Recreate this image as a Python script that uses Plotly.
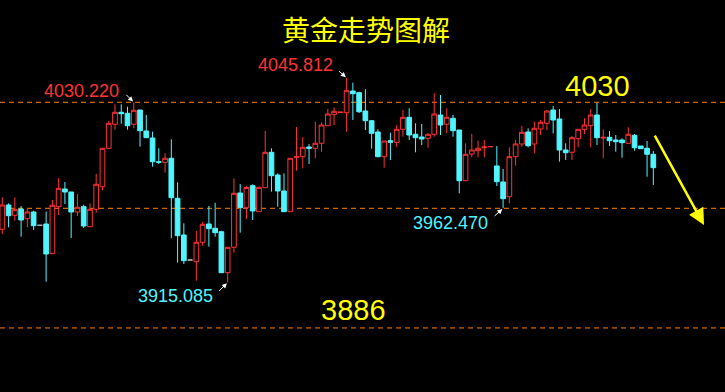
import plotly.graph_objects as go

# ---- data ----
idx = list(range(105))
opens = [3949.05, 3964.58, 3958.00, 3962.02, 3955.82, 3960.11, 3951.61, 3952.44, 3933.45, 3963.49,
         3974.81, 3972.89, 3960.11, 3963.49, 3950.71, 3961.83, 3976.28, 4000.82, 4016.16, 4023.83,
         4023.19, 4016.16, 4025.30, 4011.88, 4007.40, 3992.26, 3991.87, 3994.43, 3968.86, 3945.41,
         3929.43, 3928.34, 3940.74, 3952.44, 3949.69, 3947.52, 3921.31, 3937.55, 3972.25, 3962.86,
         3976.92, 3960.30, 3975.64, 3998.26, 3983.75, 3973.53, 3960.30, 3995.07, 3995.45, 4001.65,
         4000.82, 4004.02, 4015.26, 4022.55, 4023.80, 4023.57, 4037.44, 4036.36, 4024.66, 4018.46,
         4011.24, 3995.45, 4005.68, 4004.65, 4012.96, 4020.63, 4009.77, 4008.04, 4007.21, 4009.77,
         4022.10, 4016.16, 4019.99, 4012.52, 3980.11, 3997.18, 3999.29, 4001.20, 4001.80, 3989.51,
         3979.28, 3969.89, 3995.45, 4003.57, 4011.24, 4003.57, 4013.16, 4016.80, 4025.30, 4019.55,
         3999.73, 3998.26, 4006.96, 4012.96, 4015.26, 4022.10, 4007.40, 4007.85, 4006.12, 4006.12,
         4004.02, 4009.13, 4002.29, 4000.82, 3996.99]
highs = [3969.50, 3965.67, 3969.50, 3963.94, 3962.22, 3960.94, 3951.61, 3960.30, 3967.78, 3981.84,
         3979.28, 3972.89, 3971.61, 3964.77, 3965.67, 3984.39, 4000.82, 4018.27, 4028.94, 4028.94,
         4027.41, 4030.22, 4025.30, 4022.10, 4011.43, 4000.82, 3997.62, 4006.57, 3979.09, 3952.88,
         3929.43, 3947.96, 3953.91, 3963.94, 3966.05, 3948.15, 3937.55, 3981.65, 3978.00, 3976.72,
         3977.81, 3975.89, 4011.88, 4000.82, 3984.84, 3984.84, 3994.43, 4014.43, 4008.04, 4003.57,
         4017.82, 4017.44, 4025.94, 4027.02, 4024.00, 4045.812, 4042.75, 4037.00, 4038.72, 4018.91,
         4012.96, 4005.49, 4010.79, 4015.71, 4025.30, 4026.39, 4016.80, 4016.35, 4010.41, 4035.97,
         4034.89, 4026.39, 4022.10, 4012.52, 4004.02, 4009.96, 4005.68, 4006.12, 4002.00, 4002.29,
         3987.59, 4001.46, 4006.12, 4015.07, 4013.60, 4017.82, 4018.91, 4025.30, 4027.86, 4025.94,
         4004.02, 4008.68, 4012.96, 4019.99, 4025.94, 4029.96, 4012.96, 4011.88, 4009.32, 4007.21,
         4014.24, 4009.96, 4002.29, 4005.49, 3999.09]
lows = [3946.05, 3950.33, 3954.55, 3944.32, 3950.33, 3948.60, 3951.61, 3915.56, 3933.45, 3958.19,
        3965.22, 3943.49, 3957.55, 3949.88, 3950.71, 3959.66, 3974.17, 4000.82, 4012.71, 4016.54,
        4012.71, 4013.60, 4001.84, 4007.59, 3989.06, 3990.79, 3985.22, 3943.30, 3927.70, 3926.87,
        3929.43, 3916.20, 3938.57, 3937.93, 3944.32, 3921.31, 3915.085, 3934.09, 3946.88, 3955.63,
        3954.99, 3960.30, 3975.64, 3973.08, 3963.49, 3960.30, 3960.30, 3986.50, 3988.04, 3990.79,
        3994.43, 3998.65, 4015.26, 4015.71, 4023.70, 4011.43, 4018.91, 4023.38, 4012.52, 4000.56,
        3995.07, 3988.42, 3993.34, 4001.46, 4008.23, 4006.12, 3998.26, 4002.93, 4001.20, 4008.23,
        4009.32, 4010.41, 4008.23, 3972.06, 3980.11, 3995.07, 3995.07, 3995.07, 4001.70, 3976.72,
        3962.47, 3965.67, 3989.70, 4001.84, 4001.46, 3997.62, 4009.32, 4012.52, 4010.41, 3992.26,
        3993.34, 3993.34, 4001.46, 4009.96, 4001.46, 4002.93, 3994.43, 4002.29, 3998.65, 3994.81,
        4004.02, 3999.29, 4000.56, 3982.67, 3977.36]
closes = [3964.58, 3957.74, 3961.83, 3954.99, 3960.11, 3951.35, 3951.61, 3933.26, 3964.39, 3975.25,
          3972.89, 3960.11, 3963.11, 3951.16, 3961.83, 3977.81, 4000.82, 4016.80, 4023.83, 4022.93,
          4015.26, 4025.11, 4012.07, 4007.59, 3992.26, 3991.87, 3994.43, 3969.25, 3944.96, 3928.98,
          3929.43, 3940.74, 3952.25, 3949.43, 3946.88, 3921.31, 3937.55, 3972.06, 3962.86, 3975.77,
          3960.75, 3975.89, 3998.26, 3983.31, 3973.53, 3960.30, 3994.43, 3995.45, 4001.46, 4000.82,
          4004.02, 4015.71, 4022.74, 4024.47, 4023.90, 4037.63, 4035.72, 4024.21, 4018.46, 4010.41,
          3995.45, 4005.49, 4004.65, 4012.96, 4020.63, 4009.32, 4007.59, 4006.76, 4009.77, 4022.74,
          4015.71, 4020.63, 4012.07, 3980.11, 3996.99, 3999.73, 4000.82, 4001.65, 4001.90, 3979.47,
          3968.61, 3995.45, 4003.57, 4011.05, 4002.48, 4013.60, 4017.44, 4024.66, 4018.91, 3999.73,
          3998.01, 4007.59, 4012.96, 4015.71, 4022.10, 4007.59, 4007.85, 4005.68, 4005.04, 4004.40,
          4009.77, 4001.20, 4000.56, 3996.99, 3988.42]
gray_doji = [6, 30]

levels = [4030.22, 3962.47, 3886]
title_text = "黄金走势图解"

# ---- styling ----
W, H = 725, 392
RED = "#FF3333"
CYAN = "#50F5FF"
YELLOW = "#FFFF00"
ORANGE = "#FF8000"
X_RANGE = [-0.37, 115.45]
Y_RANGE = [3845.06, 4095.60]

def mask(arr, keep):
    return [v if (i in gray_doji) == keep else None for i, v in enumerate(arr)]

fig = go.Figure()
fig.add_trace(go.Candlestick(
    x=idx, open=mask(opens, False), high=mask(highs, False),
    low=mask(lows, False), close=mask(closes, False),
    increasing=dict(line=dict(color=RED, width=1), fillcolor="#000000"),
    decreasing=dict(line=dict(color=CYAN, width=1), fillcolor=CYAN),
    whiskerwidth=0, hoverinfo="skip", showlegend=False))
fig.add_trace(go.Candlestick(
    x=idx, open=mask(opens, True), high=mask(highs, True),
    low=mask(lows, True), close=mask(closes, True),
    increasing=dict(line=dict(color="#B0B0B0", width=1), fillcolor="#B0B0B0"),
    decreasing=dict(line=dict(color="#B0B0B0", width=1), fillcolor="#B0B0B0"),
    whiskerwidth=0, hoverinfo="skip", showlegend=False))

for lv in levels:
    fig.add_shape(type="line", xref="paper", x0=0, x1=1, yref="y", y0=lv, y1=lv,
                  line=dict(color=ORANGE, width=1, dash="5px,4px"), layer="below")

def px(x, y):
    return x / W, 1 - y / H

annos = []
def text(s, x, y, size, color, family="Liberation Sans, Arial, sans-serif"):
    ax_, ay_ = px(x, y)
    annos.append(dict(text=s, x=ax_, y=ay_, xref="paper", yref="paper",
                      xanchor="center", yanchor="middle", showarrow=False,
                      font=dict(size=size, color=color, family=family)))

text(title_text, 366, 29, 28, YELLOW, "Noto Sans CJK SC, sans-serif")
text("4030.220", 81.7, 90.7, 18, RED)
text("4045.812", 295, 65, 18, RED)
text("3962.470", 450, 223.3, 18, CYAN)
text("3915.085", 175, 296.3, 18, CYAN)
text("4030", 597, 86, 29, YELLOW)
text("3886", 353.3, 310, 29, YELLOW)

# small white pointer arrows (tip at candle extreme)
def pointer(i, price, dx, dy):
    annos.append(dict(x=i, y=price, xref="x", yref="y", ax=dx, ay=dy, axref="pixel", ayref="pixel",
                      text="", showarrow=True, arrowcolor="#FFFFFF", arrowwidth=1,
                      arrowhead=2, arrowsize=1, standoff=1))

pointer(21, highs[21], -9, -9)
pointer(55, highs[55], -9, -8)
pointer(36, lows[36], -10, 10)
pointer(80, lows[80], -10, 9)

# yellow trend arrow
annos.append(dict(x=112.1, y=3951.8, xref="x", yref="y", ax=104.1, ay=4009.9,
                  axref="x", ayref="y", text="", showarrow=True, arrowcolor=YELLOW,
                  arrowwidth=2.5, arrowhead=2, arrowsize=1.3))

fig.update_layout(
    width=W, height=H, margin=dict(l=0, r=0, t=0, b=0),
    paper_bgcolor="#000000", plot_bgcolor="#000000",
    boxmode="overlay", boxgap=0.25, boxgroupgap=0, showlegend=False, annotations=annos,
    xaxis=dict(range=X_RANGE, visible=False, showgrid=False, zeroline=False,
               rangeslider=dict(visible=False), fixedrange=True),
    yaxis=dict(range=Y_RANGE, visible=False, showgrid=False, zeroline=False, fixedrange=True),
)
fig.write_html("out.html", config={"displayModeBar": False})
